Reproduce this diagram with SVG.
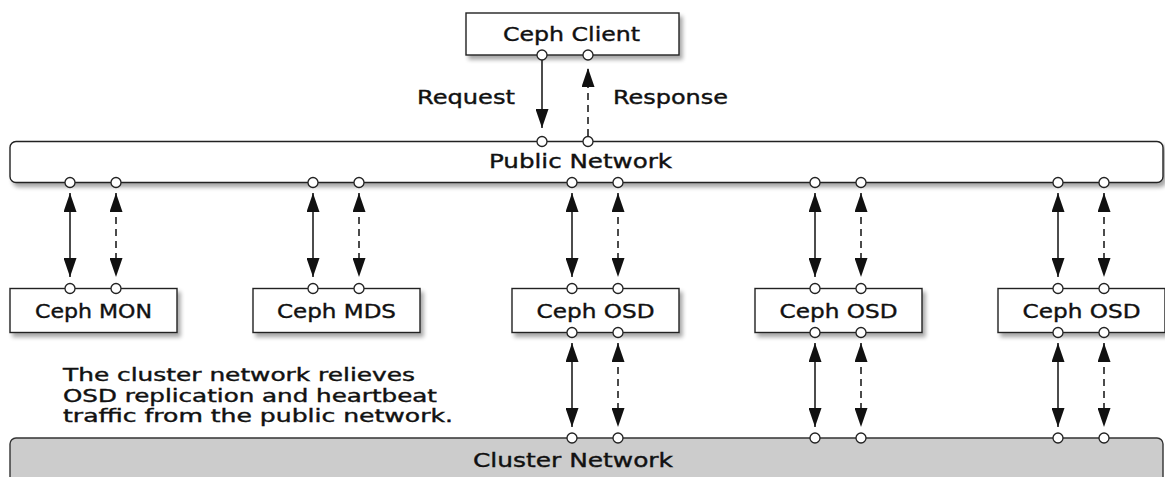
<svg xmlns="http://www.w3.org/2000/svg" width="1165" height="477" viewBox="0 0 1165 477">
<style>
.box{fill:#fff;stroke:#222;stroke-width:1.4}
.net{fill:#fff;stroke:#222;stroke-width:1.4}
.cnet{fill:#cccccc;stroke:#333;stroke-width:1.4}
.port{fill:#fff;stroke:#222;stroke-width:1.3}
.t{font-family:"DejaVu Sans",sans-serif;font-size:20px;fill:#111;stroke:#111;stroke-width:0.4}
.n{font-size:17.5px}
.c{text-anchor:middle}
.ln{fill:none;stroke:#111;stroke-width:1.5}
.d{stroke-dasharray:7 5}
</style>
<defs>
<filter id="sh" x="-10%" y="-30%" width="120%" height="170%">
<feGaussianBlur in="SourceAlpha" stdDeviation="2"/>
<feOffset dx="3" dy="4" result="b"/>
<feComponentTransfer><feFuncA type="linear" slope="0.35"/></feComponentTransfer>
<feMerge><feMergeNode/><feMergeNode in="SourceGraphic"/></feMerge>
</filter>
<marker id="ah" markerUnits="userSpaceOnUse" markerWidth="19" markerHeight="13" refX="19" refY="6.5" orient="auto-start-reverse" viewBox="0 0 19 13">
<path d="M0,0 L19,6.5 L0,13 z" fill="#111"/>
</marker>
</defs>

<g id="cluster-network">
<rect class="cnet" x="10" y="438" width="1153" height="60" rx="6"/>
<text class="t c" x="573" y="467" textLength="200" lengthAdjust="spacingAndGlyphs">Cluster Network</text>
</g>

<g id="public-network">
<rect class="net" x="10" y="141.5" width="1153" height="41" rx="6" filter="url(#sh)"/>
<text class="t c" x="580.5" y="168" textLength="183" lengthAdjust="spacingAndGlyphs">Public Network</text>
</g>

<g id="ceph-client">
<rect class="box" x="466" y="13" width="213" height="42" filter="url(#sh)"/>
<text class="t c" x="571.5" y="41" textLength="137" lengthAdjust="spacingAndGlyphs">Ceph Client</text>
</g>

<g id="ceph-mon">
<rect class="box" x="10" y="288.5" width="167" height="44" filter="url(#sh)"/>
<text class="t c" x="93.5" y="318" textLength="117" lengthAdjust="spacingAndGlyphs">Ceph MON</text>
</g>

<g id="ceph-mds">
<rect class="box" x="253" y="288.5" width="167" height="44" filter="url(#sh)"/>
<text class="t c" x="336.5" y="318" textLength="119" lengthAdjust="spacingAndGlyphs">Ceph MDS</text>
</g>

<g id="ceph-osd-1">
<rect class="box" x="512" y="288.5" width="167" height="44" filter="url(#sh)"/>
<text class="t c" x="595.5" y="318" textLength="118" lengthAdjust="spacingAndGlyphs">Ceph OSD</text>
</g>

<g id="ceph-osd-2">
<rect class="box" x="755" y="288.5" width="167" height="44" filter="url(#sh)"/>
<text class="t c" x="838.5" y="318" textLength="118" lengthAdjust="spacingAndGlyphs">Ceph OSD</text>
</g>

<g id="ceph-osd-3">
<rect class="box" x="998" y="288.5" width="167" height="44" filter="url(#sh)"/>
<text class="t c" x="1081.5" y="318" textLength="118" lengthAdjust="spacingAndGlyphs">Ceph OSD</text>
</g>

<g id="note">
<text class="t n" x="63" y="381" textLength="352" lengthAdjust="spacingAndGlyphs">The cluster network relieves</text>
<text class="t n" x="63" y="401.5" textLength="374" lengthAdjust="spacingAndGlyphs">OSD replication and heartbeat</text>
<text class="t n" x="63" y="422" textLength="390" lengthAdjust="spacingAndGlyphs">traffic from the public network.</text>
</g>

<g id="connectors">
<path class="ln" d="M542,60 V128" marker-end="url(#ah)"/>
<path class="ln d" d="M588,136 V68" marker-end="url(#ah)"/>
<text class="t" x="417" y="104" textLength="98" lengthAdjust="spacingAndGlyphs">Request</text>
<text class="t" x="613" y="104" textLength="115" lengthAdjust="spacingAndGlyphs">Response</text>

<path class="ln" d="M70,193 V277" marker-start="url(#ah)" marker-end="url(#ah)"/>
<path class="ln d" d="M116,193 V277" marker-start="url(#ah)" marker-end="url(#ah)"/>
<path class="ln" d="M313,193 V277" marker-start="url(#ah)" marker-end="url(#ah)"/>
<path class="ln d" d="M359,193 V277" marker-start="url(#ah)" marker-end="url(#ah)"/>
<path class="ln" d="M572,193 V277" marker-start="url(#ah)" marker-end="url(#ah)"/>
<path class="ln d" d="M618,193 V277" marker-start="url(#ah)" marker-end="url(#ah)"/>
<path class="ln" d="M815,193 V277" marker-start="url(#ah)" marker-end="url(#ah)"/>
<path class="ln d" d="M861,193 V277" marker-start="url(#ah)" marker-end="url(#ah)"/>
<path class="ln" d="M1058,193 V277" marker-start="url(#ah)" marker-end="url(#ah)"/>
<path class="ln d" d="M1104,193 V277" marker-start="url(#ah)" marker-end="url(#ah)"/>

<path class="ln" d="M572,343 V427" marker-start="url(#ah)" marker-end="url(#ah)"/>
<path class="ln d" d="M618,343 V427" marker-start="url(#ah)" marker-end="url(#ah)"/>
<path class="ln" d="M815,343 V427" marker-start="url(#ah)" marker-end="url(#ah)"/>
<path class="ln d" d="M861,343 V427" marker-start="url(#ah)" marker-end="url(#ah)"/>
<path class="ln" d="M1058,343 V427" marker-start="url(#ah)" marker-end="url(#ah)"/>
<path class="ln d" d="M1104,343 V427" marker-start="url(#ah)" marker-end="url(#ah)"/>

<g id="ports">
<circle class="port" cx="542" cy="55" r="5"/>
<circle class="port" cx="588" cy="55" r="5"/>
<circle class="port" cx="542" cy="141.5" r="5"/>
<circle class="port" cx="588" cy="141.5" r="5"/>
<circle class="port" cx="70" cy="182.5" r="5"/>
<circle class="port" cx="116" cy="182.5" r="5"/>
<circle class="port" cx="313" cy="182.5" r="5"/>
<circle class="port" cx="359" cy="182.5" r="5"/>
<circle class="port" cx="572" cy="182.5" r="5"/>
<circle class="port" cx="618" cy="182.5" r="5"/>
<circle class="port" cx="815" cy="182.5" r="5"/>
<circle class="port" cx="861" cy="182.5" r="5"/>
<circle class="port" cx="1058" cy="182.5" r="5"/>
<circle class="port" cx="1104" cy="182.5" r="5"/>
<circle class="port" cx="70" cy="288.5" r="5"/>
<circle class="port" cx="116" cy="288.5" r="5"/>
<circle class="port" cx="313" cy="288.5" r="5"/>
<circle class="port" cx="359" cy="288.5" r="5"/>
<circle class="port" cx="572" cy="288.5" r="5"/>
<circle class="port" cx="618" cy="288.5" r="5"/>
<circle class="port" cx="815" cy="288.5" r="5"/>
<circle class="port" cx="861" cy="288.5" r="5"/>
<circle class="port" cx="1058" cy="288.5" r="5"/>
<circle class="port" cx="1104" cy="288.5" r="5"/>
<circle class="port" cx="572" cy="332.5" r="5"/>
<circle class="port" cx="618" cy="332.5" r="5"/>
<circle class="port" cx="815" cy="332.5" r="5"/>
<circle class="port" cx="861" cy="332.5" r="5"/>
<circle class="port" cx="1058" cy="332.5" r="5"/>
<circle class="port" cx="1104" cy="332.5" r="5"/>
<circle class="port" cx="572" cy="438" r="5"/>
<circle class="port" cx="618" cy="438" r="5"/>
<circle class="port" cx="815" cy="438" r="5"/>
<circle class="port" cx="861" cy="438" r="5"/>
<circle class="port" cx="1058" cy="438" r="5"/>
<circle class="port" cx="1104" cy="438" r="5"/>
</g>
</g>
</svg>
